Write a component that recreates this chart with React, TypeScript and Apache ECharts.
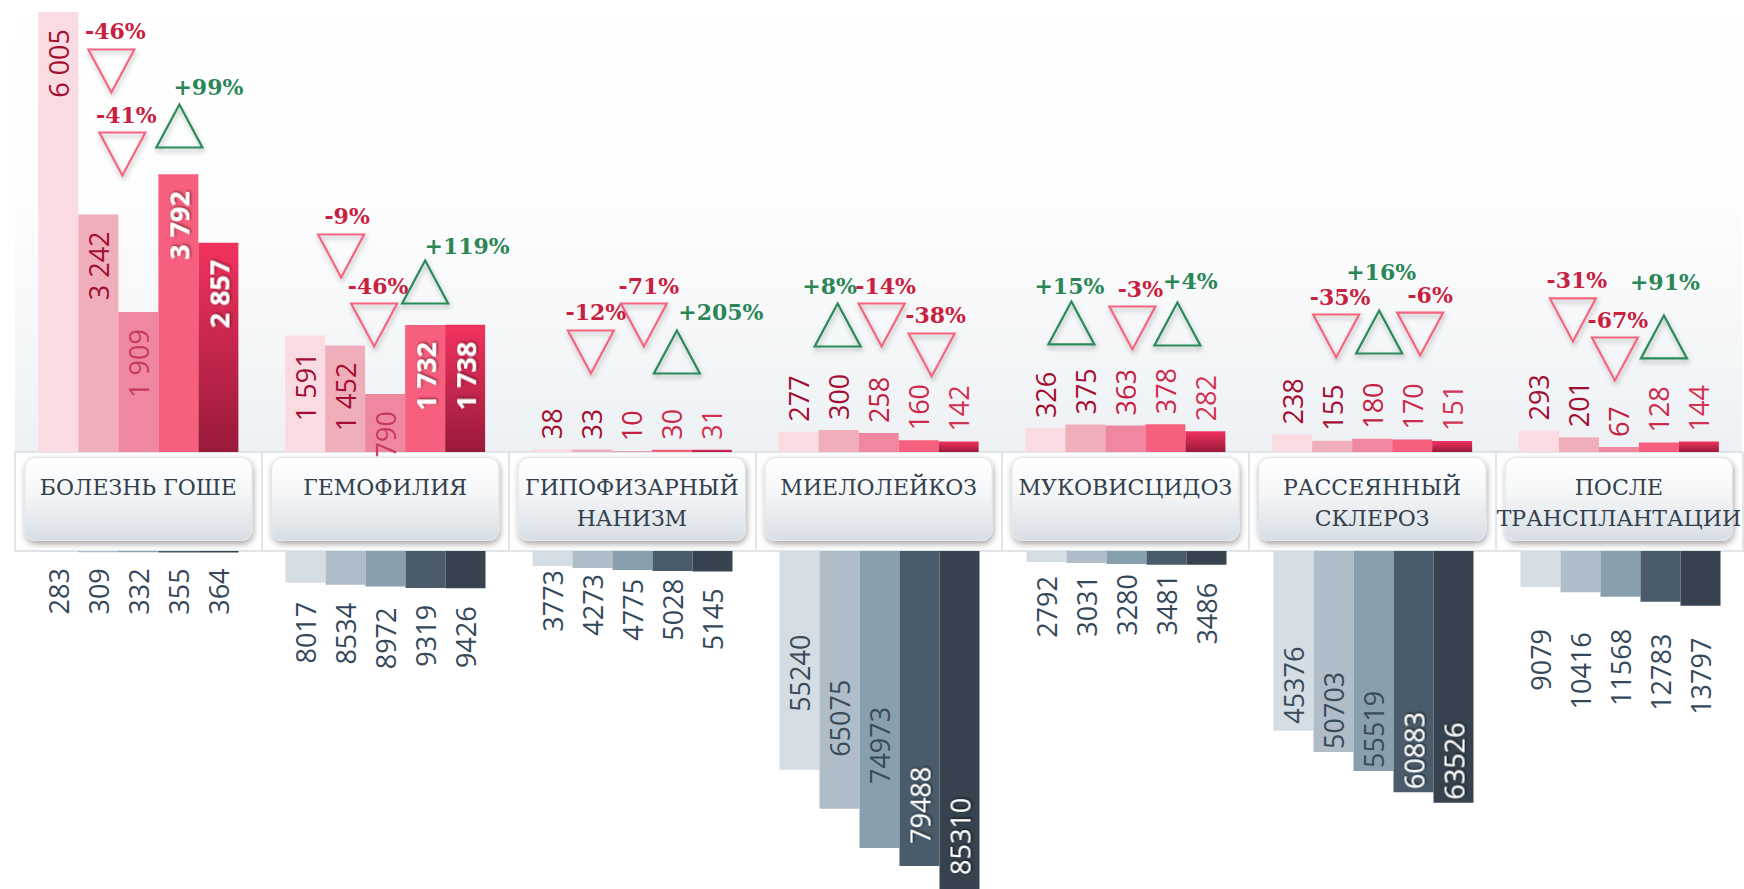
import React, { useEffect, useRef } from 'react';
import * as echarts from 'echarts';

// ---- data ----
const CATEGORIES = [
  'БОЛЕЗНЬ ГОШЕ',
  'ГЕМОФИЛИЯ',
  'ГИПОФИЗАРНЫЙ\nНАНИЗМ',
  'МИЕЛОЛЕЙКОЗ',
  'МУКОВИСЦИДОЗ',
  'РАССЕЯННЫЙ\nСКЛЕРОЗ',
  'ПОСЛЕ\nТРАНСПЛАНТАЦИИ',
];
const PERIODS = ['Период 1', 'Период 2', 'Период 3', 'Период 4', 'Период 5'];

// upper panel values (pink bars)
const TOP_P1 = [6005, 1591, 38, 277, 326, 238, 293];
const TOP_P2 = [3242, 1452, 33, 300, 375, 155, 201];
const TOP_P3 = [1909, 790, 10, 258, 363, 180, 67];
const TOP_P4 = [3792, 1732, 30, 160, 378, 170, 128];
const TOP_P5 = [2857, 1738, 31, 142, 282, 151, 144];
const TOP_SERIES = [TOP_P1, TOP_P2, TOP_P3, TOP_P4, TOP_P5];

// lower panel values (grey bars)
const BOT_P1 = [283, 8017, 3773, 55240, 2792, 45376, 9079];
const BOT_P2 = [309, 8534, 4273, 65075, 3031, 50703, 10416];
const BOT_P3 = [332, 8972, 4775, 74973, 3280, 55519, 11568];
const BOT_P4 = [355, 9319, 5028, 79488, 3481, 60883, 12783];
const BOT_P5 = [364, 9426, 5145, 85310, 3486, 63526, 13797];
const BOT_SERIES = [BOT_P1, BOT_P2, BOT_P3, BOT_P4, BOT_P5];

// change markers (period 1->2, 2->3, 3->4) per category
const CHANGE_LABELS = [
  ['-46%', '-41%', '+99%'],
  ['-9%', '-46%', '+119%'],
  ['-12%', '-71%', '+205%'],
  ['+8%', '-14%', '-38%'],
  ['+15%', '-3%', '+4%'],
  ['-35%', '+16%', '-6%'],
  ['-31%', '-67%', '+91%'],
];
// marker level, in units of the upper value axis
const CHANGE_LEVELS = [
  [5200, 4067, 4449],
  [2675, 1733, 2320],
  [1365, 1733, 1365],
  [1733, 1733, 1324],
  [1761, 1692, 1747],
  [1583, 1638, 1610],
  [1802, 1269, 1570],
];

// ---- layout nudges (pixels) ----
const MARK_DX = [
  [13, -16, 1],
  [-4, -11, 0],
  [-1, 12, 5],
  [-1, 3, 13],
  [-14, 7, 12],
  [4, 7, 8],
  [-6, -4, 5],
];
const TEXT_DX = [
  [4, 4, 29],
  [6, 4, 42],
  [5, 5, 44],
  [-8, 4, 4],
  [-2, 8, 13],
  [4, 2, 10],
  [4, 3, 1],
];
const TEXT_DY = [
  [0, 0, 0],
  [0, 0, 3],
  [0, 0, 0],
  [0, 0, 0],
  [3, 0, -3],
  [0, -20, 0],
  [0, 0, -15],
];
// gap between a lower bar's end and its value label, per category x period
const BOT_LABEL_GAP = [
  [16, 16, 16, 16, 16],
  [19, 18, 21, 17, 18],
  [4, 6, 9, 8, 17],
  [58, 52, 64, 22, 14],
  [14, 12, 10, 9, 18],
  [7, 3, 3, 3, 3],
  [42, 40, 32, 32, 32],
];

// ---- styles ----
const BAR_W = 40;
const NUM_FONT = "'Open Sans', 'Noto Sans', sans-serif";
const SERIF = "'DejaVu Serif', serif";
const TOP_COLORS = ['#fadbe2', '#f0aebb', '#ef87a0', '#f75f7e', null];
const TOP_OUT_TEXT = ['#a30d31', '#a30d31', '#c41f43', '#cc2a4c', '#d33252'];
const TOP_IN_TEXT = ['#a30d31', '#a30d31', '#c73a5c', '#ffffff', '#ffffff'];
const BOT_COLORS = ['#d5dde4', '#aebdc8', '#889fad', '#4a5c6b', '#36434f'];
const BOT_TEXT = '#35485a';
const BOT_IN_TEXT = ['#3a4b5a', '#3a4b5a', '#3a4b5a', '#ffffff', '#ffffff'];
const UP_STROKE = '#2c8a5a';
const UP_TEXT = '#2b8656';
const DOWN_STROKE = '#f4667f';
const DOWN_TEXT = '#c8203f';

const fmtSpaced = (v: number) => String(v).replace(/\B(?=(\d{3})+(?!\d))/g, ' ');

function buildOption() {
  const topSeries = TOP_SERIES.map((vals, s) => ({
    type: 'bar',
    name: PERIODS[s],
    xAxisIndex: 0,
    yAxisIndex: 0,
    barWidth: BAR_W,
    barGap: '0%',
    itemStyle: {
      color:
        s === 4
          ? new echarts.graphic.LinearGradient(0, 0, 0, 1, [
              { offset: 0, color: '#f2325f' },
              { offset: 1, color: '#991a39' },
            ])
          : TOP_COLORS[s],
    },
    data: vals.map((v) => {
      const inside = v > 500;
      const white = inside && s >= 3;
      return {
        value: v,
        label: {
          show: true,
          formatter: (p: any) => fmtSpaced(p.value),
          position: inside ? 'insideTop' : 'top',
          distance: inside ? 17 : 10,
          rotate: 90,
          align: inside ? 'right' : 'left',
          verticalAlign: 'middle',
          fontFamily: NUM_FONT,
          fontSize: 27,
          fontWeight: white ? 'bold' : 'normal',
          color: inside ? TOP_IN_TEXT[s] : TOP_OUT_TEXT[s],
          textShadowColor: white ? 'rgba(70,0,20,0.75)' : 'transparent',
          textShadowBlur: white ? 3 : 0,
          textShadowOffsetX: white ? 1 : 0,
          textShadowOffsetY: white ? 1 : 0,
        },
      };
    }),
  }));

  const botSeries = BOT_SERIES.map((vals, s) => ({
    type: 'bar',
    name: PERIODS[s],
    xAxisIndex: 1,
    yAxisIndex: 1,
    barWidth: BAR_W,
    barGap: '0%',
    itemStyle: { color: BOT_COLORS[s] },
    data: vals.map((v, c) => {
      const inside = v > 20000;
      const white = inside && s >= 3;
      return {
        value: v,
        label: {
          show: true,
          formatter: (p: any) => String(p.value),
          position: inside ? 'insideBottom' : 'bottom',
          distance: BOT_LABEL_GAP[c][s],
          rotate: 90,
          align: inside ? 'left' : 'right',
          verticalAlign: 'middle',
          fontFamily: NUM_FONT,
          fontSize: 27,
          color: inside ? BOT_IN_TEXT[s] : BOT_TEXT,
          textShadowColor: white ? 'rgba(0,0,0,0.8)' : 'transparent',
          textShadowBlur: white ? 3 : 0,
          textShadowOffsetX: white ? 1 : 0,
          textShadowOffsetY: white ? 1 : 0,
        },
      };
    }),
  }));

  const markerData: number[][] = [];
  CHANGE_LEVELS.forEach((levels, c) => levels.forEach((lv) => markerData.push([c, lv])));

  const markerSeries = {
    type: 'custom',
    xAxisIndex: 0,
    yAxisIndex: 0,
    z: 10,
    clip: false,
    silent: true,
    data: markerData,
    renderItem: (params: any, api: any) => {
      const i = params.dataIndex;
      const c = Math.floor(i / 3);
      const j = i % 3;
      const pt = api.coord([api.value(0), api.value(1)]);
      const cx = pt[0] + (j - 1) * BAR_W + MARK_DX[c][j];
      const cy = pt[1];
      const text = CHANGE_LABELS[c][j];
      const up = text.charAt(0) === '+';
      const hw = 23;
      const hh = 21.5;
      const points = up
        ? [[cx, cy - hh], [cx + hw, cy + hh], [cx - hw, cy + hh]]
        : [[cx - hw, cy - hh], [cx + hw, cy - hh], [cx, cy + hh]];
      return {
        type: 'group',
        children: [
          {
            type: 'polygon',
            shape: { points },
            style: {
              fill: 'none',
              stroke: up ? UP_STROKE : DOWN_STROKE,
              lineWidth: 2.2,
              lineJoin: 'miter',
              shadowBlur: 5,
              shadowColor: 'rgba(0,0,0,0.28)',
              shadowOffsetX: 1,
              shadowOffsetY: 3,
            },
          },
          {
            type: 'text',
            x: cx + TEXT_DX[c][j],
            y: cy - hh - 7 + TEXT_DY[c][j],
            style: {
              text,
              fill: up ? UP_TEXT : DOWN_TEXT,
              font: `bold 22px ${SERIF}`,
              align: 'center',
              verticalAlign: 'bottom',
            },
          },
        ],
      };
    },
  };

  return {
    animation: false,
    backgroundColor: '#ffffff',
    grid: [
      {
        left: 15,
        width: 1729,
        top: 12,
        height: 440,
        show: true,
        borderWidth: 0,
        backgroundColor: new echarts.graphic.LinearGradient(0, 0, 0, 1, [
          { offset: 0, color: '#ffffff' },
          { offset: 0.45, color: '#fcfdfd' },
          { offset: 1, color: '#eef1f4' },
        ]),
      },
      { left: 15, width: 1729, top: 551, height: 338 },
    ],
    xAxis: [
      {
        type: 'category',
        gridIndex: 0,
        data: CATEGORIES,
        axisLine: { show: true, lineStyle: { color: '#d6dce2', width: 1.5 } },
        axisTick: { show: true, length: 98, lineStyle: { color: '#d6dce2', width: 1.5 } },
        axisLabel: {
          interval: 0,
          margin: 6,
          color: '#333f4c',
          fontFamily: SERIF,
          fontSize: 22,
          lineHeight: 31,
          width: 226,
          height: 68,
          padding: [14, 0, 0, 0],
          align: 'center',
          verticalAlign: 'top',
          overflow: 'none',
          backgroundColor: new echarts.graphic.LinearGradient(0, 0, 0, 1, [
            { offset: 0, color: '#ffffff' },
            { offset: 0.45, color: '#f4f6f8' },
            { offset: 1, color: '#d7dee4' },
          ]),
          borderColor: '#e2e6ea',
          borderWidth: 1,
          borderRadius: 10,
          shadowColor: 'rgba(0,0,0,0.35)',
          shadowBlur: 6,
          shadowOffsetX: 1,
          shadowOffsetY: 3,
        },
      },
      {
        type: 'category',
        gridIndex: 1,
        position: 'top',
        data: CATEGORIES,
        axisLine: { show: true, lineStyle: { color: '#d6dce2', width: 1.5 } },
        axisTick: { show: false },
        axisLabel: { show: false },
      },
    ],
    yAxis: [
      { type: 'value', gridIndex: 0, min: 0, max: 6005, show: false, splitLine: { show: false } },
      { type: 'value', gridIndex: 1, min: 0, max: 85310, inverse: true, show: false, splitLine: { show: false } },
    ],
    series: [...topSeries, ...botSeries, markerSeries],
  };
}

export default function App() {
  const ref = useRef<HTMLDivElement>(null);
  useEffect(() => {
    if (!ref.current) return;
    const chart = echarts.init(ref.current, undefined, { renderer: 'svg' });
    chart.setOption(buildOption() as any);
    return () => chart.dispose();
  }, []);
  return (
    <div
      ref={ref}
      style={{ position: 'fixed', left: 0, top: 0, width: 1744, height: 889, background: '#fff' }}
    />
  );
}
